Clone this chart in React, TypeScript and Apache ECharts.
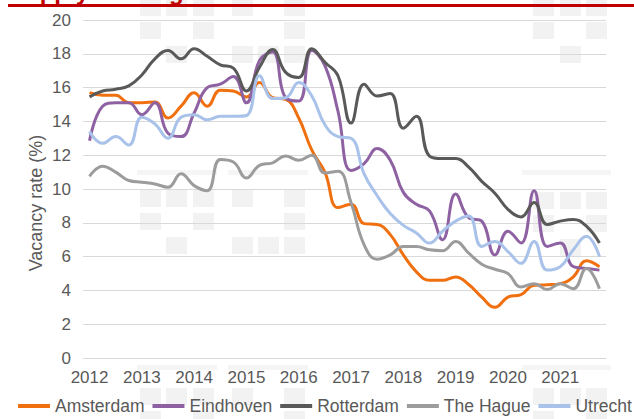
import React, { useEffect, useRef } from "react";
import * as echarts from "echarts";

// ---- data (quarterly, 2012 Q1 – 2021 Q4) ----
const YEARS = ["2012", "2013", "2014", "2015", "2016", "2017", "2018", "2019", "2020", "2021"];
const QUARTERS = YEARS.flatMap((y) => ["Q1", "Q2", "Q3", "Q4"].map((q) => `${y} ${q}`));

const AMSTERDAM = [15.7, 15.55, 15.55, 15.1, 15.1, 15.15, 14.2, 14.9, 15.7, 14.9, 15.85, 15.8, 15.45, 16.3, 15.4, 15.3, 14.2, 12.3, 11.0, 8.9, 9.1, 7.95, 7.9, 7.3, 6.1, 5.1, 4.6, 4.6, 4.8, 4.35, 3.6, 3.0, 3.6, 3.75, 4.3, 4.33, 4.4, 4.8, 5.75, 5.4];
const EINDHOVEN = [12.85, 14.9, 15.1, 15.1, 14.4, 15.1, 13.3, 13.1, 14.5, 16.0, 16.2, 16.65, 15.1, 17.6, 18.1, 15.4, 15.2, 18.2, 17.3, 14.6, 11.1, 11.5, 12.4, 11.7, 9.8, 9.1, 8.7, 7.0, 9.7, 8.3, 8.1, 6.1, 7.5, 6.8, 9.9, 6.6, 6.8, 5.4, 5.3, 5.2];
const ROTTERDAM = [15.45, 15.8, 15.9, 16.1, 16.75, 17.7, 18.2, 17.7, 18.3, 17.85, 17.35, 17.15, 15.8, 17.2, 18.25, 16.9, 16.6, 18.3, 17.5, 16.7, 13.9, 16.2, 15.5, 15.65, 13.6, 14.3, 11.95, 11.8, 11.8, 11.3, 10.45, 9.75, 8.8, 8.35, 9.2, 7.9, 8.1, 8.2, 7.8, 6.8];
const THE_HAGUE = [10.75, 11.35, 11.0, 10.5, 10.4, 10.3, 10.1, 10.9, 10.2, 9.9, 11.75, 11.6, 10.65, 11.4, 11.55, 11.95, 11.7, 12.0, 10.95, 11.05, 9.2, 6.7, 5.85, 6.1, 6.6, 6.6, 6.4, 6.35, 6.9, 6.2, 5.55, 5.25, 5.0, 4.2, 4.4, 4.05, 4.4, 4.1, 5.3, 4.1];
const UTRECHT = [13.4, 12.7, 13.1, 12.6, 14.25, 13.85, 13.0, 14.25, 14.4, 14.1, 14.3, 14.3, 14.35, 16.7, 15.35, 15.4, 16.3, 15.5, 13.8, 13.1, 13.0, 10.9, 9.6, 8.55, 7.85, 7.4, 6.8, 7.5, 8.1, 8.4, 6.6, 6.9, 6.3, 5.6, 6.9, 5.2, 5.4, 6.4, 7.2, 6.0];

const SERIES = [
  { name: "Amsterdam", data: AMSTERDAM, color: "#F0700F" },
  { name: "Eindhoven", data: EINDHOVEN, color: "#8E62A2" },
  { name: "Rotterdam", data: ROTTERDAM, color: "#595959" },
  { name: "The Hague", data: THE_HAGUE, color: "#9C9C9C" },
  { name: "Utrecht", data: UTRECHT, color: "#A8C2EA" },
];

const Y_MIN = 0;
const Y_MAX = 20;
const Y_STEP = 2;
const TITLE = "Supply shortage";
const Y_NAME = "Vacancy rate (%)";

// ---- decorative background squares ----
const FONT = "'Liberation Sans', Arial, sans-serif";
const SQ = "#f2f2f2";
function squares() {
  const els: any[] = [];
  const groups = [
    { cols: [140, 166, 193, 232, 258, 284], rows: [[0, 1, 2, 3, 5], [0, 2, 5], [1, 3, 4, 5]], tops: [-1, 190, 388] },
    { cols: [533, 560, 586], rows: [[0, 1, 2], [0, 2], [1]], tops: [-1, 192, 388] },
  ];
  const rowOff = [0, 23, 47];
  groups.forEach((g) => {
    g.tops.forEach((t) => {
      g.rows.forEach((r, ri) => {
        r.forEach((ci) => {
          els.push({ type: "rect", z: -10, silent: true, shape: { x: g.cols[ci], y: t + rowOff[ri], width: 21, height: 17 }, style: { fill: SQ } });
        });
      });
    });
  });
  [[137, 80], [228, 80], [522, 89]].forEach(([x, w]) => {
    [170, 365].forEach((y) => {
      els.push({ type: "rect", z: -10, silent: true, shape: { x, y, width: w, height: 5 }, style: { fill: "#f5f5f5" } });
    });
  });
  return els;
}

export default function App() {
  const ref = useRef<HTMLDivElement>(null);
  useEffect(() => {
    if (!ref.current) return;
    const chart = echarts.init(ref.current, null, { renderer: "svg" });
    chart.setOption({
      animation: false,
      backgroundColor: "#ffffff",
      textStyle: { fontFamily: FONT },
      grid: { left: 83, top: 20, width: 523, height: 338, containLabel: false },
      xAxis: {
        type: "category",
        data: QUARTERS,
        boundaryGap: true,
        axisLine: { show: false },
        axisTick: { show: false },
        splitLine: { show: false },
        axisLabel: {
          interval: 3,
          margin: 11,
          color: "#595959",
          fontSize: 17,
          fontFamily: FONT,
          formatter: (v: string) => v.split(" ")[0],
        },
      },
      yAxis: {
        type: "value",
        min: Y_MIN,
        max: Y_MAX,
        interval: Y_STEP,
        axisLine: { show: false },
        axisTick: { show: false },
        splitLine: { lineStyle: { color: "#d9d9d9", width: 1 } },
        axisLabel: { margin: 12, color: "#595959", fontSize: 17, fontFamily: FONT },
      },
      legend: {
        left: 18,
        top: 397,
        width: 800,
        padding: 0,
        icon: "rect",
        itemWidth: 32,
        itemHeight: 4,
        itemGap: 8,
        textStyle: { color: "#595959", fontSize: 17.5, fontFamily: FONT },
        data: SERIES.map((s) => s.name),
      },
      series: SERIES.map((s) => ({
        name: s.name,
        type: "line",
        data: s.data,
        smooth: 0.45,
        symbol: "none",
        color: s.color,
        lineStyle: { color: s.color, width: 3 },
      })),
      graphic: [
        ...squares(),
        {
          type: "text",
          z: 100,
          x: 36,
          y: 203,
          rotation: Math.PI / 2,
          style: { text: Y_NAME, fill: "#595959", font: `18px ${FONT}`, textAlign: "center", textVerticalAlign: "middle" },
        },
        {
          type: "text",
          z: 99,
          x: 9,
          y: 3,
          style: { text: TITLE, fill: "#C00000", font: `bold 24px ${FONT}`, textAlign: "left", textVerticalAlign: "bottom" },
        },
        { type: "rect", z: 100, shape: { x: 8, y: 4, width: 626, height: 3 }, style: { fill: "#C00000" } },
      ],
    });
    return () => chart.dispose();
  }, []);
  return <div ref={ref} style={{ position: "fixed", left: 0, top: 0, width: 634, height: 419 }} />;
}
